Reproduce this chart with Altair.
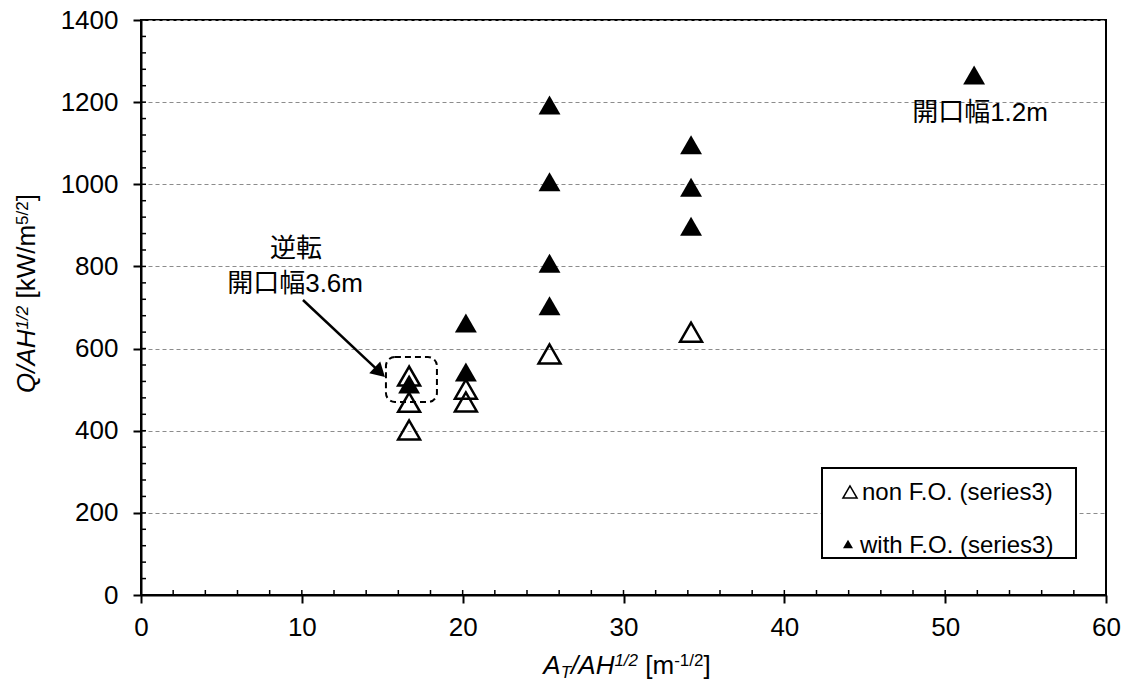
import altair as alt
import pandas as pd

# ---------------- data ----------------
x_ticks = [0, 10, 20, 30, 40, 50, 60]
y_ticks = [0, 200, 400, 600, 800, 1000, 1200, 1400]
x_minor = list(range(0, 61, 2))
y_minor = list(range(0, 1401, 40))

non_x = [16.67, 16.67, 16.67, 20.2, 20.2, 25.4, 34.2]
non_y = [402, 469, 533, 501, 470, 587, 640]

with_x = [16.67, 20.2, 20.2, 25.4, 25.4, 25.4, 25.4, 34.2, 34.2, 34.2, 51.8]
with_y = [514, 662, 543, 1193, 1006, 808, 704, 1096, 993, 898, 1266]

ann_labels = ["逆転", "開口幅3.6m", "開口幅1.2m"]
ann_x = [9.64, 9.58, 52.17]
ann_y = [842, 757, 1174]

legend_labels = ["non F.O. (series3)", "with F.O. (series3)"]

# ---------------- layout ----------------
W, H = 965, 575
FONT = "Liberation Sans"
JP = "Liberation Sans, Noto Sans CJK JP"

xs = alt.Scale(domain=[0, 60], nice=False, zero=False)
ys = alt.Scale(domain=[0, 1400], nice=False, zero=False)

non_df = pd.DataFrame({"x": non_x, "y": non_y})
with_df = pd.DataFrame({"x": with_x, "y": with_y})

main_x_axis = alt.Axis(values=x_ticks, orient="bottom", tickSize=8, tickWidth=2,
                       tickColor="black", domainColor="black", domainWidth=2,
                       labelFont=FONT, labelFontSize=26, labelColor="black",
                       labelPadding=11, labelFlush=False, grid=False, title=None,
                       format="d")
main_y_axis = alt.Axis(values=y_ticks, orient="left", tickSize=8, tickWidth=2,
                       tickColor="black", domainColor="black", domainWidth=2,
                       labelFont=FONT, labelFontSize=26, labelColor="black",
                       labelPadding=15, grid=True, gridDash=[4, 3],
                       gridColor="#8c8c8c", gridWidth=1.2, title=None,
                       format="d")


def X(f):
    return alt.X(f, type="quantitative", scale=xs, axis=main_x_axis)


def Y(f):
    return alt.Y(f, type="quantitative", scale=ys, axis=main_y_axis)


# inner (minor) ticks
xminor_df = pd.DataFrame({"v": x_minor})
yminor_df = pd.DataFrame({"v": y_minor})
xminor = alt.Chart(xminor_df).mark_rule(color="black", strokeWidth=1.5).encode(
    x=X("v"), y=alt.value(H), y2=alt.value(H - 5))
yminor = alt.Chart(yminor_df).mark_rule(color="black", strokeWidth=1.5).encode(
    y=Y("v"), x=alt.value(0), x2=alt.value(5))

box_df = pd.DataFrame({"x": [15.23], "x2": [18.40], "y": [579.5], "y2": [469.9]})
box = alt.Chart(box_df).mark_rect(fill="white", fillOpacity=0, stroke="black",
                                  strokeWidth=2, strokeDash=[6, 4],
                                  cornerRadius=9).encode(
    x=X("x"), x2="x2", y=Y("y"), y2="y2")

open_pts = alt.Chart(non_df).mark_point(shape="triangle-up", size=480, filled=False,
                                        stroke="black", strokeWidth=2.5,
                                        opacity=1).encode(
    x=X("x"), y=Y("y"))

filled_pts = alt.Chart(with_df).mark_point(shape="triangle-up", size=480,
                                           filled=True, color="black",
                                           opacity=1).encode(
    x=X("x"), y=Y("y"))

arrow_df = pd.DataFrame({"x": [10.07], "y": [718.3], "x2": [14.85], "y2": [542.5]})
arrow_line = alt.Chart(arrow_df).mark_rule(color="black", strokeWidth=2.5).encode(
    x=X("x"), y=Y("y"), x2="x2", y2="y2")
arrow_head = alt.Chart(arrow_df).mark_point(shape="triangle-right", size=260,
                                            filled=True, color="black", opacity=1,
                                            angle=43).encode(
    x=X("x2"), y=Y("y2"))

ann_df = pd.DataFrame({"x": ann_x, "y": ann_y, "label": ann_labels})
ann = alt.Chart(ann_df).mark_text(font=JP, fontSize=26, color="black",
                                  align="center", baseline="middle").encode(
    x=X("x"), y=Y("y"), text="label:N")

# ---------------- composed axis titles ----------------
WID = {"A": 667, "T": 611, "/": 278, "H": 722, "1": 556, "2": 556, " ": 278,
       "[": 278, "m": 833, "-": 333, "]": 278, "Q": 778, "k": 500, "W": 944,
       "5": 556}


def tw(s, fs):
    return sum(WID[c] for c in s) * fs / 1000.0


def text_layer(t, px, py, fs, italic=False, angle=0):
    props = dict(align="left", baseline="alphabetic", font=FONT, fontSize=fs,
                 color="black", fontStyle="italic" if italic else "normal")
    if angle:
        props["angle"] = angle
    return alt.Chart(pd.DataFrame({"t": [t]})).mark_text(**props).encode(
        text="t:N", x=alt.value(px), y=alt.value(py))


# (text, fontsize, italic, baseline shift); leading spaces are advanced, not drawn
x_title = [("A", 26, True, 0), ("T", 17, True, 4), ("/AH", 26, True, 0),
           ("1/2", 17, True, -8), (" [m", 26, False, 0), ("-1/2", 17, False, -8),
           ("]", 26, False, 0)]
y_title = [("Q/AH", 26, True, 0), ("1/2", 17, True, -7), (" [kW/m", 26, False, 0),
           ("5/2", 17, False, -7), ("]", 26, False, 0)]

title_layers = []
total = sum(tw(s, f) for s, f, _, _ in x_title)
cx = 486 - total / 2
for s, f, it, sh in x_title:
    lead = len(s) - len(s.lstrip(" "))
    off = tw(" " * lead, f)
    title_layers.append(text_layer(s.lstrip(" "), cx + off, 654 + sh, f, it))
    cx += tw(s, f)

total = sum(tw(s, f) for s, f, _, _ in y_title)
cy = 273.5 + total / 2
for s, f, it, sh in y_title:
    lead = len(s) - len(s.lstrip(" "))
    off = tw(" " * lead, f)
    title_layers.append(text_layer(s.lstrip(" "), -106 + sh, cy - off, f, it,
                                   angle=270))
    cy -= tw(s, f)

# ---------------- legend ----------------
one = pd.DataFrame({"a": [0]})
leg_box = alt.Chart(one).mark_rect(
    fill="white", stroke="black", strokeWidth=2).encode(
    x=alt.value(681), x2=alt.value(935), y=alt.value(448), y2=alt.value(538))
leg_sym1 = alt.Chart(one).mark_point(
    shape="triangle-up", size=200, filled=False, stroke="black", strokeWidth=1.5,
    opacity=1).encode(x=alt.value(709), y=alt.value(472))
leg_sym2 = alt.Chart(one).mark_point(
    shape="triangle-up", size=100, filled=True, color="black",
    opacity=1).encode(x=alt.value(707), y=alt.value(524))
leg_t1 = text_layer(legend_labels[0], 721, 480, 24)
leg_t2 = text_layer(legend_labels[1], 719, 533, 24)

chart = alt.layer(
    open_pts, xminor, yminor, box, filled_pts, arrow_line, arrow_head, ann,
    *title_layers, leg_box, leg_sym1, leg_sym2, leg_t1, leg_t2
).properties(
    width=W, height=H,
    autosize=alt.AutoSizeParams(type="none"),
    padding={"left": 141, "top": 20, "right": 24, "bottom": 92},
    background="white",
).configure_view(stroke="black", strokeWidth=2)

chart.save("out.html", embed_options={"renderer": "svg", "actions": False})
